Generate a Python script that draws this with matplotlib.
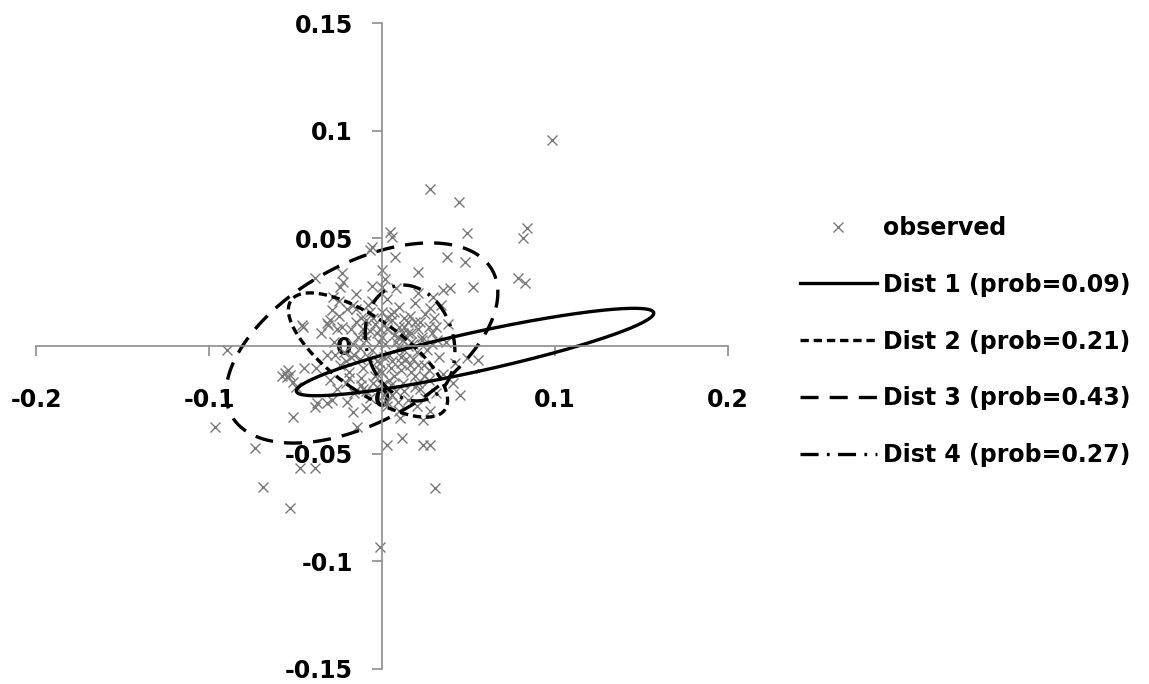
import numpy as np
import matplotlib
matplotlib.use('Agg')
import matplotlib.pyplot as plt

plt.rcParams['font.family'] = ['DejaVu Sans']
plt.rcParams['lines.scale_dashes'] = False

# observed returns
obs_x = [0.0983, 0.0277, 0.0445, 0.0046, 0.0058, 0.0491, 0.0838, 0.0815, 0.0376, 0.0480,
         0.0075, 0.0208, 0.0000, 0.0786, 0.0827, 0.0526, 0.0393, -0.0058, -0.0069, -0.0387,
         -0.0231, -0.0225, 0.0353, 0.0295, 0.0208, 0.0277, 0.0000, -0.0283, -0.0289, -0.0462,
         -0.0312, -0.0896, -0.0543, -0.0532, 0.0491, 0.0555, 0.0410, 0.0451, -0.0965, -0.0734,
         -0.0514, -0.0474, -0.0387, -0.0688, -0.0532, -0.0012, 0.0306, 0.0029, 0.0116, 0.0237,
         0.0277, -0.0145, -0.0168, 0.0104, 0.0237, -0.0549, -0.0514, -0.0376, -0.0318, -0.0289,
         -0.0387, -0.0457, -0.0318, -0.0561, -0.0243,
         # dense middle
         -0.025, -0.020, -0.015, -0.012, -0.008, -0.004, 0.000, 0.003, 0.006, 0.010,
         0.013, 0.016, 0.019, 0.022, 0.025, 0.030, 0.034, 0.038, -0.018, -0.010,
         -0.030, -0.035, 0.008, 0.002, -0.006,
         -0.028, -0.022, -0.017, -0.013, -0.009, -0.006, -0.003, -0.001, 0.002, 0.004,
         0.007, 0.009, 0.012, 0.014, 0.017, 0.020, 0.023, 0.026, 0.029, 0.033,
         0.037, 0.042, -0.024, -0.019, 0.000, 0.005, 0.011, 0.016, -0.011, -0.004,
         -0.030, -0.026, -0.021, -0.016, -0.012, -0.007, -0.003, 0.001, 0.004, 0.008,
         0.012, 0.015, 0.019, 0.022, 0.027, 0.031, 0.035, -0.009, 0.003, 0.010,
         0.020, 0.028, -0.020,
         -0.014, -0.008, -0.002, 0.001, 0.003, 0.006, 0.008, 0.010, 0.013, 0.015,
         0.018, 0.021, -0.005, -0.011, -0.016, 0.000, 0.005, 0.011, 0.017, 0.024,
         -0.002, 0.007, 0.013, -0.007, 0.019, 0.027, 0.032, -0.026, -0.032, -0.038,
         -0.058, -0.050, -0.045,
         -0.027, -0.023, -0.019, -0.015, -0.011, -0.007, -0.003, 0.001, 0.005, 0.009,
         0.013, 0.017, 0.021, 0.025, 0.029,
         -0.025, -0.021, -0.017, -0.013, -0.009, -0.005, -0.001, 0.003, 0.007, 0.011,
         0.015, 0.019, 0.023, 0.027, 0.031,
         -0.018, -0.012, -0.006, 0.000, 0.006, 0.012, 0.018, 0.024, -0.015, -0.009,
         -0.003, 0.003, 0.009, 0.015, 0.021]
obs_y = [0.0957, 0.0730, 0.0669, 0.0530, 0.0506, 0.0525, 0.0548, 0.0502, 0.0414, 0.0390,
         0.0414, 0.0344, 0.0353, 0.0316, 0.0293, 0.0274, 0.0270, 0.0460, 0.0446, 0.0316,
         0.0339, 0.0297, 0.0260, 0.0228, 0.0246, 0.0177, 0.0274, 0.0228, 0.0167, 0.0098,
         0.0098, -0.0019, -0.0112, -0.0135, -0.0056, -0.0065, -0.0172, -0.0228, -0.0376, -0.0474,
         -0.0330, -0.0567, -0.0567, -0.0655, -0.0753, -0.0934, -0.0660, -0.0460, -0.0428, -0.0460,
         -0.0460, -0.0376, -0.0307, -0.0335, -0.0344, -0.0144, -0.0167, -0.0265, -0.0265, -0.0251,
         -0.0283, 0.0088, 0.0107, -0.0125, 0.0274,
         0.021, 0.017, 0.024, 0.013, 0.019, 0.010, 0.016, 0.022, 0.012, 0.018,
         0.009, 0.014, 0.020, 0.011, 0.015, 0.013, 0.019, 0.010, 0.008, 0.005,
         0.012, 0.006, 0.027, 0.031, 0.028,
         0.002, -0.003, 0.001, -0.006, 0.003, -0.002, 0.006, -0.008, 0.001, -0.004,
         0.005, -0.001, 0.003, -0.006, 0.002, -0.003, 0.004, -0.002, 0.006, -0.005,
         0.002, -0.008, -0.009, -0.012, -0.012, -0.010, -0.011, -0.009, -0.010, -0.014,
         -0.016, -0.020, -0.017, -0.022, -0.018, -0.024, -0.019, -0.023, -0.016, -0.021,
         -0.017, -0.025, -0.014, -0.020, -0.016, -0.022, -0.013, -0.029, -0.028, -0.030,
         -0.028, -0.030, -0.026,
         0.004, -0.005, 0.002, -0.005, 0.008, -0.007, 0.002, 0.009, -0.002, 0.006,
         -0.006, 0.008, 0.013, 0.008, -0.004, 0.004, 0.015, -0.005, -0.012, -0.009,
         -0.011, -0.014, 0.013, 0.016, 0.011, 0.009, 0.003, 0.008, -0.004, -0.010,
         -0.014, -0.019, -0.010,
         -0.004, 0.009, -0.015, 0.011, -0.020, 0.007, -0.013, 0.010, -0.018, 0.004,
         -0.021, 0.006, -0.009, -0.024, 0.001,
         0.014, -0.007, 0.019, -0.001, 0.012, -0.017, 0.008, -0.026, 0.016, -0.008,
         0.011, -0.019, 0.003, -0.011, 0.009,
         -0.005, -0.015, 0.021, -0.018, -0.023, 0.006, 0.001, -0.014, 0.017, -0.021,
         -0.007, 0.013, -0.026, 0.000, -0.017]

# fitted mixture components
dist_labels = ['Dist 1 (prob=0.09)', 'Dist 2 (prob=0.21)', 'Dist 3 (prob=0.43)', 'Dist 4 (prob=0.27)']
dist_mean_x = [0.0538, -0.0081, -0.0116, 0.0162]
dist_mean_y = [-0.0028, -0.0042, 0.0014, 0.0014]
dist_sd_x = [0.0422, 0.0188, 0.0321, 0.0106]
dist_sd_y = [0.0083, 0.0118, 0.0190, 0.0110]
dist_rho = [0.889, -0.727, 0.503, -0.15]
dist_styles = ['-', (0, (6, 3.5)), (0, (13, 8)), (0, (13, 6, 2, 6))]

chi2_95 = 5.991

fig = plt.figure(figsize=(11.49, 6.84), dpi=100)
ax = fig.add_axes([36 / 1149, 1 - 668.8 / 684, 692 / 1149, 645.6 / 684])

ax.plot(obs_x, obs_y, linestyle='none', marker='x', markersize=7, markeredgewidth=1,
        color='#7a7a7a', label='observed')

t = np.linspace(0, 2 * np.pi, 400)
for i in range(len(dist_labels)):
    sx, sy, r = dist_sd_x[i], dist_sd_y[i], dist_rho[i]
    cov = np.array([[sx ** 2, r * sx * sy], [r * sx * sy, sy ** 2]])
    vals, vecs = np.linalg.eigh(cov)
    circ = np.vstack([np.cos(t), np.sin(t)])
    pts = vecs @ (np.sqrt(vals * chi2_95)[:, None] * circ)
    ax.plot(dist_mean_x[i] + pts[0], dist_mean_y[i] + pts[1], color='black', lw=2.4,
            linestyle=dist_styles[i], label=dist_labels[i])

ax.set_xlim(-0.2, 0.2)
ax.set_ylim(-0.15, 0.15)
for s in ['top', 'right']:
    ax.spines[s].set_visible(False)
for s in ['left', 'bottom']:
    ax.spines[s].set_position(('data', 0))
    ax.spines[s].set_color('#8c8c8c')
    ax.spines[s].set_linewidth(1.2)

ax.set_xticks([-0.2, -0.1, 0, 0.1, 0.2])
ax.set_xticklabels(['-0.2', '-0.1', '0', '0.1', '0.2'])
ax.set_yticks([-0.15, -0.1, -0.05, 0, 0.05, 0.1, 0.15])
ax.set_yticklabels(['-0.15', '-0.1', '-0.05', '0', '0.05', '0.1', '0.15'])
ax.tick_params(axis='x', direction='out', length=7, width=1.2, color='#8c8c8c', pad=23,
               labelsize=17)
ax.tick_params(axis='y', direction='out', length=7, width=1.2, color='#8c8c8c', pad=14,
               labelsize=17)
for lab in ax.get_xticklabels() + ax.get_yticklabels():
    lab.set_fontweight('bold')

ax.legend(loc='center left', bbox_to_anchor=(800 / 1149, 1 - 341.5 / 684),
          bbox_transform=fig.transFigure, frameon=False,
          prop={'weight': 'bold', 'size': 17}, handlelength=3.26, handletextpad=0.25,
          labelspacing=1.39, borderpad=0, borderaxespad=0)

fig.savefig('out.png', dpi=100)
